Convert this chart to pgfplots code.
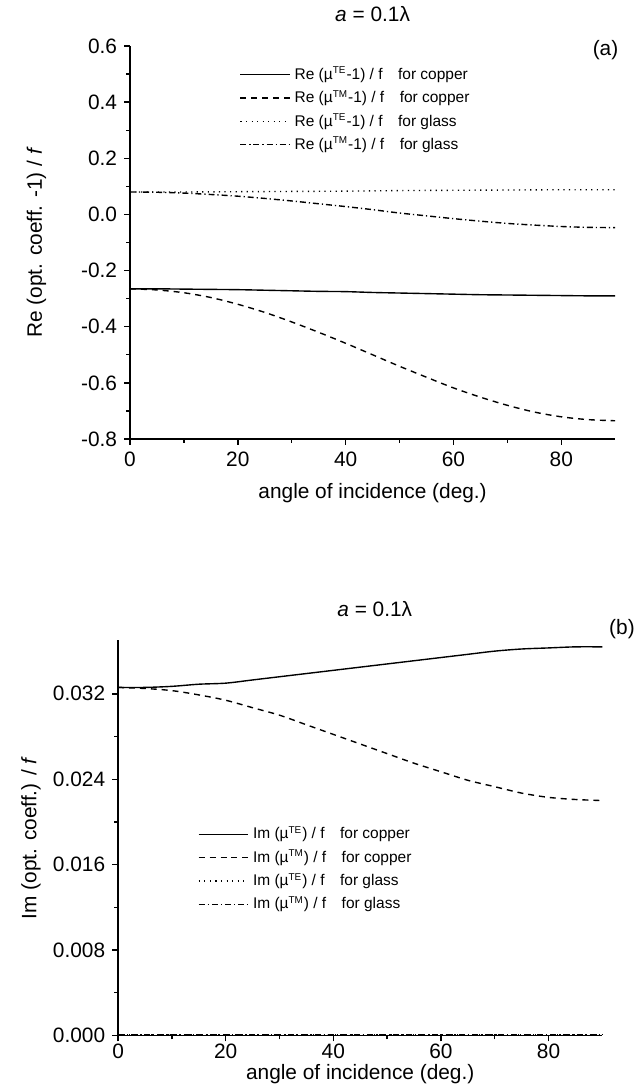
\documentclass[border=0pt]{standalone}
\usepackage{fontspec}
\setmainfont{Liberation Sans}
\usepackage{pgfplots}
\pgfplotsset{compat=1.18}
\pgfplotsset{
  panel/.style={
    scale only axis, anchor=south west, clip=false,
    axis lines=left, axis line style={-, line width=0.8pt},
    tick align=outside, major tick length=3pt, minor tick length=2pt,
    every tick/.style={line width=0.7pt, black},
    xmin=0, xmax=90, xtick={0,20,40,60,80}, minor x tick num=1,
    minor y tick num=1,
    /pgf/number format/assume math mode=true,
    ticklabel style={font=\fontsize{10.5}{12}\selectfont},
    label style={font=\fontsize{10.5}{12}\selectfont},
    xlabel={angle of incidence (deg.)},
    legend cell align=left,
    legend image code/.code={\draw[#1] (0pt,0pt) -- (25pt,0pt);},
  },
  curve/.style={black, line width=0.7pt, smooth},
}
\newcommand{\sub}[1]{\textsuperscript{\fontsize{5}{5}\selectfont #1}}
\begin{document}
\begin{tikzpicture}
\path (0pt,0pt) rectangle (320.5pt,545pt);
% ---------- panel (a)
\begin{axis}[panel, at={(65.5pt,325pt)}, width=244.5pt, height=198pt,
  ymin=-0.8, ymax=0.6, ytick={-0.8,-0.6,-0.4,-0.2,0,0.2,0.4,0.6},
  yticklabel style={/pgf/number format/.cd, fixed, fixed zerofill, precision=1},
  ylabel={Re (opt. coeff. -1) / \textit{f}},
  ylabel style={at={(axis description cs:-0.1925,0.5)}, anchor=center},
  xlabel style={yshift=-1.5pt},
  legend style={at={(0.213,0.968)}, anchor=north west, draw=none, fill=none,
    font=\fontsize{7.8}{9}\selectfont, row sep=0pt},
]
\addplot[curve] coordinates {(0,-0.265)(5,-0.265)(10,-0.266)(15,-0.267)(20,-0.268)(25,-0.270)(30,-0.272)(35,-0.274)(40,-0.275)(45,-0.278)(50,-0.280)(55,-0.282)(60,-0.284)(65,-0.286)(70,-0.287)(75,-0.288)(80,-0.289)(85,-0.290)(90,-0.290)};
\addlegendentry{Re (µ\sub{TE}-1) / f\quad for copper}
\addplot[curve, dash pattern=on 3pt off 2.5pt] coordinates {(0,-0.265)(5,-0.269)(10,-0.279)(15,-0.296)(20,-0.320)(25,-0.349)(30,-0.383)(35,-0.420)(40,-0.459)(45,-0.500)(50,-0.541)(55,-0.580)(60,-0.618)(65,-0.651)(70,-0.680)(75,-0.704)(80,-0.721)(85,-0.731)(90,-0.735)};
\addlegendentry{Re (µ\sub{TM}-1) / f\quad for copper}
\addplot[curve, dash pattern=on 0.6pt off 2.2pt] coordinates {(0,0.080)(10,0.080)(20,0.081)(30,0.082)(40,0.083)(50,0.085)(60,0.086)(70,0.087)(80,0.088)(90,0.088)};
\addlegendentry{Re (µ\sub{TE}-1) / f\quad for glass}
\addplot[curve, dash pattern=on 3pt off 1.5pt on 0.6pt off 1.5pt] coordinates {(0,0.080)(5,0.079)(10,0.076)(15,0.071)(20,0.065)(25,0.057)(30,0.048)(35,0.038)(40,0.028)(45,0.017)(50,0.005)(55,-0.005)(60,-0.015)(65,-0.024)(70,-0.032)(75,-0.038)(80,-0.043)(85,-0.046)(90,-0.047)};
\addlegendentry{Re (µ\sub{TM}-1) / f\quad for glass}
\node[font=\fontsize{10.5}{12}\selectfont] at (rel axis cs:0.5,1) [yshift=16pt] {\textit{a} = 0.1λ};
\node[font=\fontsize{10.5}{12}\selectfont] at (rel axis cs:0.98,0.99) {(a)};
\end{axis}
% ---------- panel (b)
\begin{axis}[panel, at={(59.5pt,24.5pt)}, width=244pt, height=199pt,
  ymin=0, ymax=0.037, ytick={0,0.008,0.016,0.024,0.032},
  yticklabel style={/pgf/number format/.cd, fixed, fixed zerofill, precision=3},
  scaled y ticks=false,
  xticklabel style={yshift=2pt},
  ylabel={Im (opt. coeff.) / \textit{f}},
  ylabel style={at={(axis description cs:-0.18,0.5)}, anchor=center},
  xlabel style={at={(axis description cs:0.5,0)}, anchor=base, yshift=-22pt},
  legend style={at={(0.152,0.55)}, anchor=north west, draw=none, fill=none,
    font=\fontsize{7.8}{9}\selectfont, row sep=0pt},
]
\addplot[curve] coordinates {(0,0.0326)(5,0.0326)(10,0.0327)(15,0.0329)(20,0.0330)(25,0.0333)(30,0.0336)(35,0.0339)(40,0.0342)(45,0.0345)(50,0.0348)(55,0.0351)(60,0.0354)(65,0.0357)(70,0.0360)(75,0.0362)(80,0.0363)(85,0.0364)(90,0.0364)};
\addlegendentry{Im (µ\sub{TE}) / f\quad for copper}
\addplot[curve, dash pattern=on 3pt off 2.5pt] coordinates {(0,0.0326)(5,0.0325)(10,0.0323)(15,0.0319)(20,0.0314)(25,0.0307)(30,0.0300)(35,0.0291)(40,0.0282)(45,0.0273)(50,0.0264)(55,0.0255)(60,0.0247)(65,0.0239)(70,0.0233)(75,0.0227)(80,0.0223)(85,0.0221)(90,0.0220)};
\addlegendentry{Im (µ\sub{TM}) / f\quad for copper}
\addplot[curve, dash pattern=on 0.6pt off 2.2pt] coordinates {(0,0.0001)(30,0.0001)(60,0.0001)(90,0.0001)};
\addlegendentry{Im (µ\sub{TE}) / f\quad for glass}
\addplot[curve, dash pattern=on 3pt off 1.5pt on 0.6pt off 1.5pt] coordinates {(0,0.0001)(30,0.0001)(60,0.0001)(90,0.0001)};
\addlegendentry{Im (µ\sub{TM}) / f\quad for glass}
\node[font=\fontsize{10.5}{12}\selectfont] at (rel axis cs:0.53,1) [yshift=16pt] {\textit{a} = 0.1λ};
\end{axis}
\node[font=\fontsize{10.5}{12}\selectfont, anchor=east, inner sep=0pt] at (320pt,229pt) {(b)};
\end{tikzpicture}
\end{document}
